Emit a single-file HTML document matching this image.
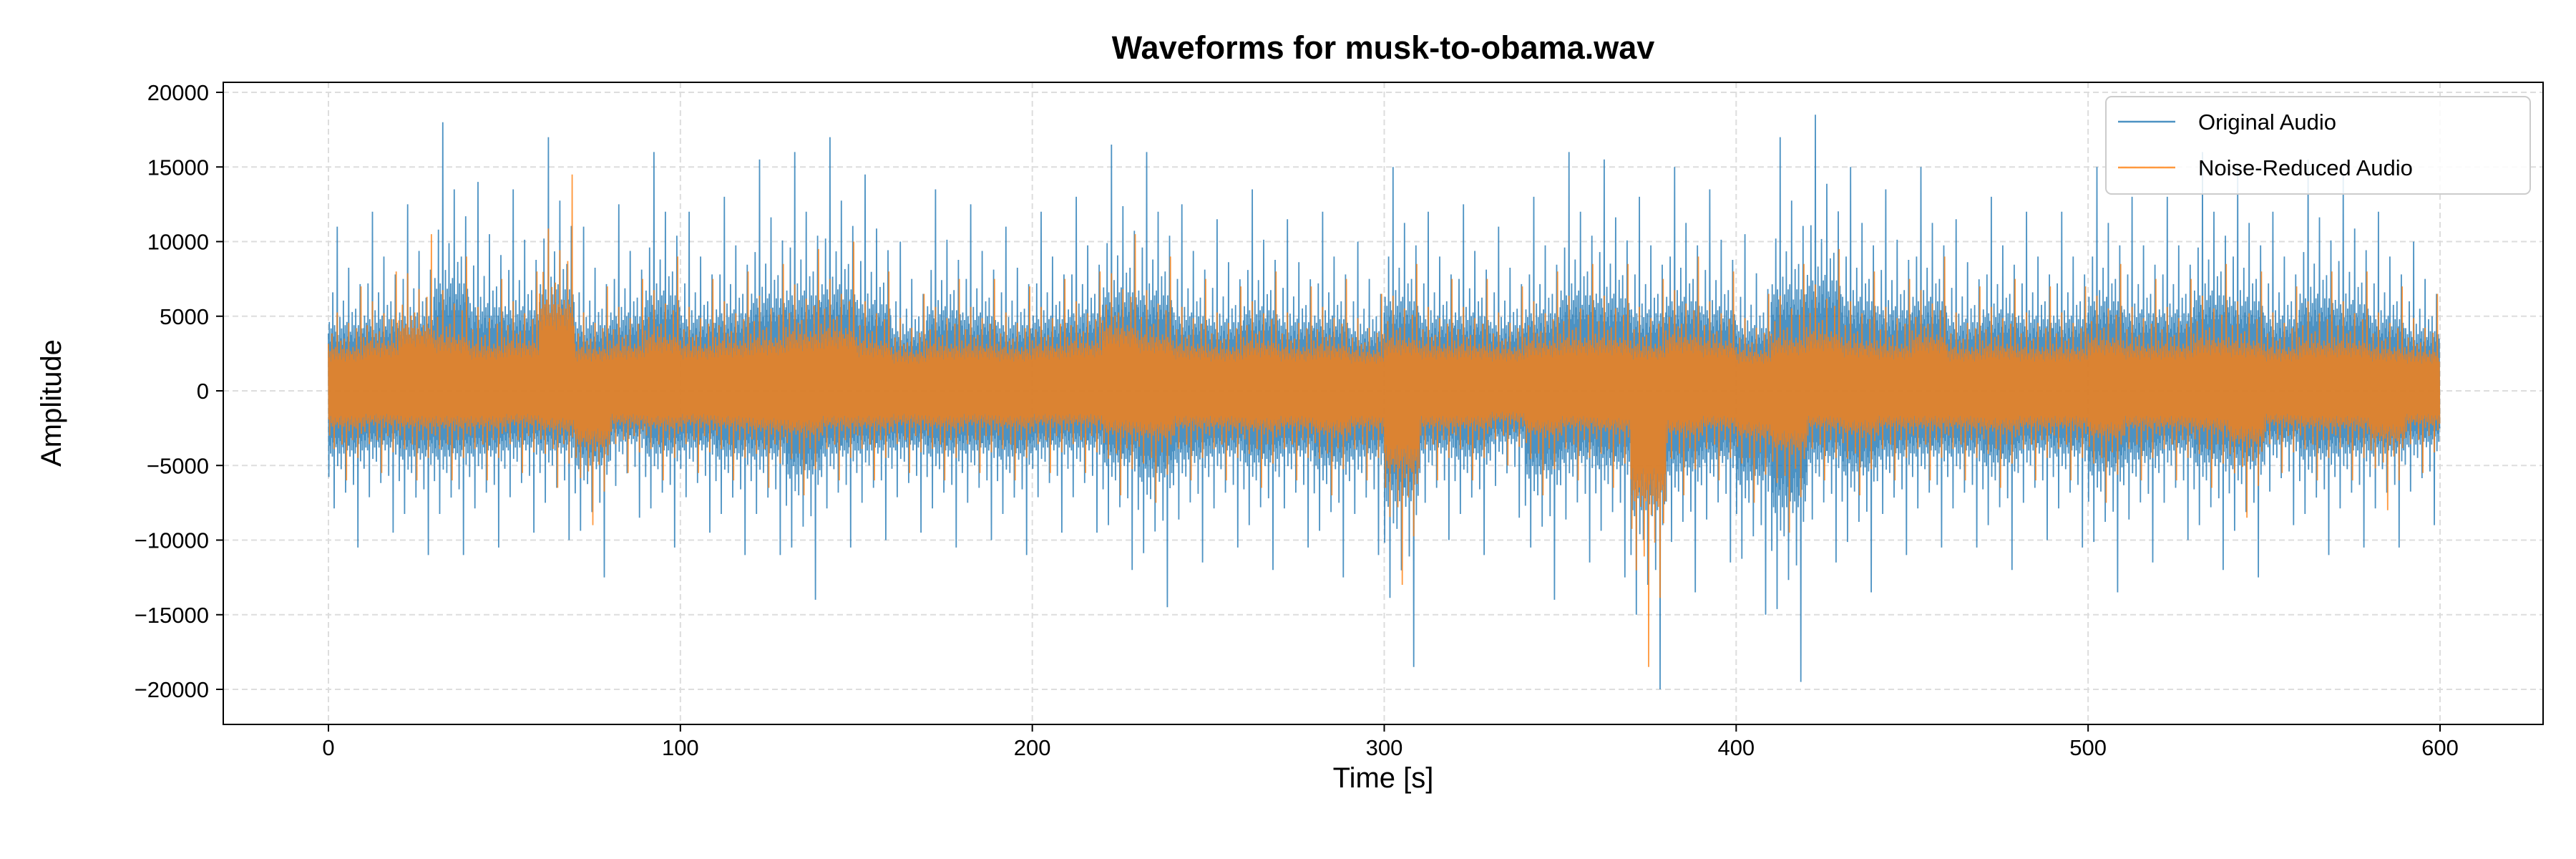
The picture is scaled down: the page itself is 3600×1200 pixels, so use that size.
<!DOCTYPE html>
<html><head><meta charset="utf-8">
<style>
html,body{margin:0;padding:0;background:#fff;}
svg{display:block;font-family:"Liberation Sans","DejaVu Sans",sans-serif;}
</style></head>
<body>
<svg id="chart" width="3600" height="1200" viewBox="0 0 3600 1200" xmlns="http://www.w3.org/2000/svg">
<rect width="3600" height="1200" fill="#fff"/>
<text x="1933" y="82" text-anchor="middle" font-size="45" font-weight="bold">Waveforms for musk-to-obama.wav</text>
<g id="grid"></g>
<g id="series"></g>
<rect x="312" y="115" width="3242" height="897" fill="none" stroke="#000" stroke-width="2"/>
<g id="ticks"></g>
<text x="1933" y="1100" text-anchor="middle" font-size="40">Time [s]</text>
<text transform="translate(85,563) rotate(-90)" text-anchor="middle" font-size="40">Amplitude</text>
<g>
<rect x="2943" y="135" width="593" height="136" rx="8" fill="#fff" fill-opacity="0.85" stroke="#ccc" stroke-width="2"/>
<line x1="2960" y1="170" x2="3040" y2="170" stroke="#1f77b4" stroke-opacity="0.8" stroke-width="2.5"/>
<text x="3072" y="181" font-size="31">Original Audio</text>
<line x1="2960" y1="234" x2="3040" y2="234" stroke="#ff7f0e" stroke-opacity="0.8" stroke-width="2.5"/>
<text x="3072" y="245" font-size="31">Noise-Reduced Audio</text>
</g>
</svg>
<script>
const binStarts=[0,10,20,30,40,50,60,70,80,90,100,110,120,130,140,150,160,170,180,190,200,210,220,230,240,250,260,270,280,290,300,310,320,330,340,350,360,370,380,390,400,410,420,430,440,450,460,470,480,490,500,510,520,530,540,550,560,570,580,590];
const origMax=[11000,12000,12500,18000,14000,13500,17000,11000,12500,16000,12000,13000,15500,16000,17000,14500,10000,13500,12500,11000,12000,13000,16500,16000,12500,11500,13500,11500,12000,10000,15000,12000,12500,11000,13000,16000,15500,13000,15000,13500,10500,17000,18500,15000,13500,15000,11500,13000,12000,12000,15000,13000,13000,16000,15000,12000,15500,14500,12000,10000];
const origMin=[-10500,-9500,-11000,-11000,-10500,-9500,-10000,-12500,-8500,-10500,-9500,-11000,-11000,-14000,-10500,-10000,-9500,-10500,-10000,-11000,-9500,-9500,-12000,-14500,-11500,-10500,-12000,-10500,-12500,-11000,-18500,-10000,-11000,-8500,-14000,-11500,-12500,-20000,-13500,-11500,-15000,-19500,-11500,-13500,-11000,-10500,-10500,-12000,-10000,-10500,-13500,-11500,-10000,-12000,-12500,-9000,-11000,-10500,-10500,-9000];
const nrMax=[7000,8000,10500,9000,7500,8000,14500,7000,7500,9000,7500,8000,8500,9500,10000,8000,6500,7500,7500,7000,7500,8000,10500,9000,7500,7000,8000,7000,7500,6500,8500,7500,7500,7000,8000,8500,8500,7500,9000,8000,6500,8500,9500,8000,7500,9000,7000,7500,7000,7000,8500,7500,7500,8500,8000,7000,8000,8000,7000,6500];
const nrMin=[-6000,-5500,-6000,-6000,-6000,-5500,-6500,-9000,-5500,-6000,-5500,-6000,-6500,-7000,-6000,-6000,-5500,-6000,-5500,-6000,-5500,-5500,-7000,-7500,-6000,-6000,-6500,-6000,-7000,-6000,-13000,-6000,-6000,-5000,-7000,-6000,-6500,-18500,-7000,-6000,-7500,-9500,-6000,-7000,-6000,-6000,-6000,-6500,-6000,-6000,-7500,-6000,-6000,-6500,-8500,-5500,-6000,-6000,-8000,-5500];
const xTicks=[0,100,200,300,400,500,600];
const yTicks=[-20000,-15000,-10000,-5000,0,5000,10000,15000,20000];
const pat=[0.35,0.42,0.3,0.38,0.28,0.6,0.33,0.4,0.36,0.3,1.0,0.34,0.3,0.45,0.32,0.38,0.28,0.55,0.35,0.4,0.3,0.42,0.33,0.75,0.3,0.36,0.34,0.48,0.3,0.4,0.32,0.5,0.28,0.36,0.4,0.33,0.65,0.3,0.38,0.35];
const X=t=>459+(t/600)*(3410-459);
const Y=v=>546-(v/20000)*(546-129);
const NS="http://www.w3.org/2000/svg";
const grid=document.getElementById('grid'),ticks=document.getElementById('ticks'),ser=document.getElementById('series');
function mk(tag,attrs,parent){const e=document.createElementNS(NS,tag);for(const k in attrs)e.setAttribute(k,attrs[k]);parent.appendChild(e);return e;}
xTicks.forEach(t=>{
 const g=mk('line',{x1:X(t),x2:X(t),y1:115,y2:1012,stroke:'#ddd','stroke-width':2,'stroke-dasharray':'8,5'},grid);
 
 
 const tk=mk('line',{x1:X(t),x2:X(t),y1:1012,y2:1022,stroke:'#000','stroke-width':2},ticks);
 
 
 const tx=mk('text',{x:X(t),y:1055,'text-anchor':'middle','font-size':31},ticks);
 tx.textContent=t;
 
 
});
yTicks.forEach(v=>{
 const g=mk('line',{x1:312,x2:3554,y1:Y(v),y2:Y(v),stroke:'#ddd','stroke-width':2,'stroke-dasharray':'8,5'},grid);
 
 
 const tk=mk('line',{x1:302,x2:312,y1:Y(v),y2:Y(v),stroke:'#000','stroke-width':2},ticks);
 
 
 const tx=mk('text',{x:292,y:Y(v)+11,'text-anchor':'end','font-size':31},ticks);
 tx.textContent=v<0?'\u2212'+(-v):v;
 
 
});
function drawSeries(maxA,minA,color,off,name){
 let pts=[];const n=pat.length;
 binStarts.forEach((t0,i)=>{
  for(let k=0;k<n;k++){
   const t=t0+10*k/n;
   const a=pat[(k+off)%n],b=pat[(k+off+17)%n];
   pts.push(X(t).toFixed(1)+','+Y(maxA[i]*a).toFixed(1));
   pts.push(X(t+5/n).toFixed(1)+','+Y(minA[i]*b).toFixed(1));
  }
 });
 const p=mk('polyline',{points:pts.join(' '),fill:'none',stroke:color,'stroke-opacity':0.8,'stroke-width':1.8},ser);
 
 
}
drawSeries(origMax,origMin,'#1f77b4',0,'original-audio-line');
drawSeries(nrMax,nrMin,'#ff7f0e',13,'noise-reduced-audio-line');
</script>
</body></html>
